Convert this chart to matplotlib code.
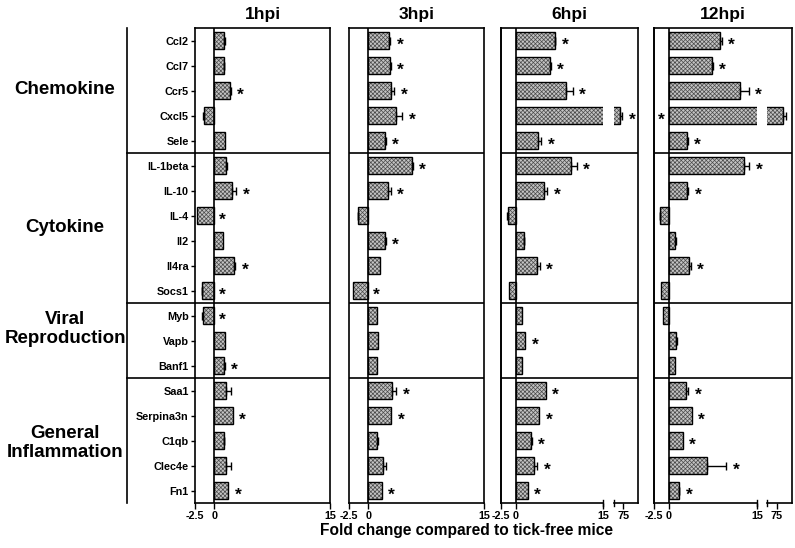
import matplotlib
matplotlib.use('Agg')
import matplotlib.pyplot as plt
from matplotlib.lines import Line2D

plt.rcParams['font.family'] = ['Liberation Sans', 'DejaVu Sans']
plt.rcParams['font.weight'] = 'bold'
plt.rcParams['hatch.linewidth'] = 0.5

genes = ['Ccl2', 'Ccl7', 'Ccr5', 'Cxcl5', 'Sele',
         'IL-1beta', 'IL-10', 'IL-4', 'Il2', 'Il4ra', 'Socs1',
         'Myb', 'Vapb', 'Banf1',
         'Saa1', 'Serpina3n', 'C1qb', 'Clec4e', 'Fn1']
groups = ['Chemokine', 'Cytokine', 'Viral\nReproduction', 'General\nInflammation']
times = ['1hpi', '3hpi', '6hpi', '12hpi']

fc_1h = [1.3, 1.2, 2.0, -1.3, 1.45, 1.55, 2.33, -2.24, 1.08, 2.5, -1.6,
         -1.4, 1.4, 1.24, 1.58, 2.37, 1.24, 1.46, 1.8]
err_1h = [0.1, 0.05, 0.15, 0.2, 0, 0.15, 0.52, 0, 0, 0.2, 0.05,
          0.2, 0, 0.1, 0.56, 0, 0.05, 0.68, 0]
sig_1h = [0, 0, 1, 0, 0, 0, 1, 1, 0, 1, 1, 1, 0, 1, 0, 1, 0, 0, 1]

fc_3h = [2.72, 2.85, 2.93, 3.62, 2.11, 5.69, 2.59, -1.29, 2.16, 1.55, -1.94,
         1.18, 1.3, 1.07, 3.07, 2.99, 1.18, 1.97, 1.75]
err_3h = [0.13, 0.08, 0.43, 0.78, 0.13, 0.1, 0.34, 0.09, 0.08, 0, 0,
          0, 0, 0, 0.56, 0, 0.03, 0.28, 0]
sig_3h = [1, 1, 1, 1, 1, 1, 1, 0, 1, 0, 1, 0, 0, 0, 1, 1, 0, 0, 1]

fc_6h = [6.72, 5.86, 8.68, 74.5, 3.9, 9.54, 4.83, -1.32, 1.38, 3.68, -1.15,
         1.11, 1.63, 1.04, 5.2, 4.09, 2.6, 3.12, 2.08]
err_6h = [0.12, 0.17, 1.09, 0.3, 0.53, 0.92, 0.63, 0.18, 0.11, 0.46, 0,
          0, 0, 0, 0, 0, 0.22, 0.59, 0]
sig_6h = [1, 1, 1, 1, 1, 1, 1, 0, 0, 1, 0, 0, 1, 0, 1, 1, 1, 1, 1]

fc_12h = [8.75, 7.33, 12.05, 76.0, 3.07, 12.78, 3.13, -1.42, 1.02, 3.41, -1.25,
          -1.03, 1.32, 1.1, 3.0, 3.9, 2.43, 6.47, 1.69]
err_12h = [0.28, 0.11, 1.55, 0.45, 0.17, 0.92, 0.17, 0.11, 0.17, 0.34, 0,
           0, 0.05, 0, 0.3, 0, 0, 3.31, 0.1]
sig_12h = [1, 1, 1, 1, 1, 1, 1, 0, 0, 1, 0, 0, 0, 0, 1, 1, 1, 1, 1]

all_fc = [fc_1h, fc_3h, fc_6h, fc_12h]
all_err = [err_1h, err_3h, err_6h, err_12h]
all_sig = [sig_1h, sig_3h, sig_6h, sig_12h]

W, H = 795, 548
fig = plt.figure(figsize=(W / 100, H / 100), dpi=100)

def fx(px):
    return px / W

def fy(py):
    return 1 - py / H

top_px, bot_px = 28, 503
bottom = fy(bot_px)
height = (bot_px - top_px) / H
# (main left, main right, tail left, tail right) in pixels
layout = [(195, 330, None, None), (349, 484, None, None),
          (501, 603, 614, 638), (654, 757, 767, 792)]
group_label_y = [89, 227, 329, 443]
tail_lim = (73.4, 77.5)
ypos = list(range(len(genes)))
seps = [4.5, 10.5, 13.5]
tick_fs = 7.8
bar_h = 0.65
n = len(genes)


def draw_bars(ax, vals, errs):
    ax.barh(ypos, vals, height=bar_h, color='#c4c4c4', hatch='xxxxxxxx',
            edgecolor='#4a4a4a', linewidth=0, zorder=2)
    ax.barh(ypos, vals, height=bar_h, fill=False, edgecolor='black',
            linewidth=1.0, zorder=3)
    for y, v, e in zip(ypos, vals, errs):
        if e > 0:
            lo, hi = (e, 0) if v < 0 else (0, e)
            ax.errorbar(v, y, xerr=[[lo], [hi]], fmt='none', ecolor='black',
                        elinewidth=1.0, capsize=3, capthick=1.0, zorder=4)


def star(ax, x, y, dx):
    ax.annotate('*', (x, y), xytext=(dx, -3.5), textcoords='offset points',
                ha='center', va='center', fontsize=12.5, fontweight='bold',
                annotation_clip=False, zorder=5)


for i, (l, r, tl, tr) in enumerate(layout):
    vals, errs, sigs = all_fc[i], all_err[i], all_sig[i]
    ax = fig.add_axes([fx(l), bottom, fx(r - l), height])
    ax.set_xlim(-2.5, 15)
    ax.set_ylim(n - 0.5, -0.5)
    ax.patch.set_alpha(0)
    draw_bars(ax, vals, errs)
    ax.axvline(0, color='black', lw=1.2, zorder=4)
    ax.set_xticks([-2.5, 0, 15])
    ax.set_xticklabels(['-2.5', '0', '15'], fontsize=tick_fs, fontweight='bold')
    ax.tick_params(axis='x', length=4, width=1.0, pad=1.5)
    for s in ax.spines.values():
        s.set_linewidth(1.2)

    if i == 0:
        ax.set_yticks(ypos)
        ax.set_yticklabels(genes, fontsize=tick_fs, fontweight='bold')
        ax.tick_params(axis='y', length=3, width=1.0, pad=1.5)
    else:
        ax.set_yticks([])

    if tl is None:
        for sp in seps:
            ax.axhline(sp, color='black', lw=1.2, zorder=1)
        ax.text(0.5, 1.012, times[i], transform=ax.transAxes, ha='center',
                va='bottom', fontsize=12.5, fontweight='bold')
    else:
        # frame spanning the broken axis
        frame = fig.add_axes([fx(l), bottom, fx(tr - l), height], zorder=-1)
        frame.set_xlim(0, 1)
        frame.set_ylim(n - 0.5, -0.5)
        frame.set_xticks([])
        frame.set_yticks([])
        frame.spines['bottom'].set_visible(False)
        for s in frame.spines.values():
            s.set_linewidth(1.2)
        for sp in seps:
            frame.axhline(sp, color='black', lw=1.2)
        frame.text(0.5, 1.012, times[i], transform=frame.transAxes, ha='center',
                   va='bottom', fontsize=12.5, fontweight='bold')
        for side in ['top', 'right']:
            ax.spines[side].set_visible(False)

        tail = fig.add_axes([fx(tl), bottom, fx(tr - tl), height])
        tail.set_xlim(*tail_lim)
        tail.set_ylim(n - 0.5, -0.5)
        tail.patch.set_alpha(0)
        draw_bars(tail, vals, errs)
        tail.set_yticks([])
        tail.set_xticks([75])
        tail.set_xticklabels(['75'], fontsize=tick_fs, fontweight='bold')
        tail.tick_params(axis='x', length=4, width=1.0, pad=1.5)
        for side in ['top', 'right', 'left']:
            tail.spines[side].set_visible(False)
        tail.spines['bottom'].set_linewidth(1.2)
        # break marks
        ax.plot([15, 15], [n - 0.5 - 0.12, n - 0.5 + 0.12],
                color='black', lw=1.0, clip_on=False)
        tail.plot([tail_lim[0]] * 2, [n - 0.5 - 0.12, n - 0.5 + 0.12],
                  color='black', lw=1.0, clip_on=False)

    for y, v, e, s in zip(ypos, vals, errs, sigs):
        if not s:
            continue
        if v < 0:
            star(ax, 0, y, 6)
        elif v > 15:
            end = v + e
            if tl is not None and end + 1.6 < tail_lim[1]:
                star(tail, end, y, 7)
            else:
                star(ax, -1.2, y, 0)
        else:
            star(ax, v + e, y, 7)

# left bracket and group separators
fig.add_artist(Line2D([fx(127), fx(127)], [fy(top_px), fy(bot_px)],
                      color='black', lw=1.2))
row_h = (bot_px - top_px) / n
for sp in seps:
    yy = fy(top_px + (sp + 0.5) * row_h)
    fig.add_artist(Line2D([fx(127), fx(195)], [yy, yy], color='black', lw=1.2))

for g, gy in zip(groups, group_label_y):
    fig.text(fx(65), fy(gy), g, ha='center', va='center', fontsize=13.5,
             fontweight='bold', linespacing=1.1)

fig.text(fx(466), fy(531), 'Fold change compared to tick-free mice',
         ha='center', va='center', fontsize=11.2, fontweight='bold')

fig.savefig('out.png', dpi=100)
